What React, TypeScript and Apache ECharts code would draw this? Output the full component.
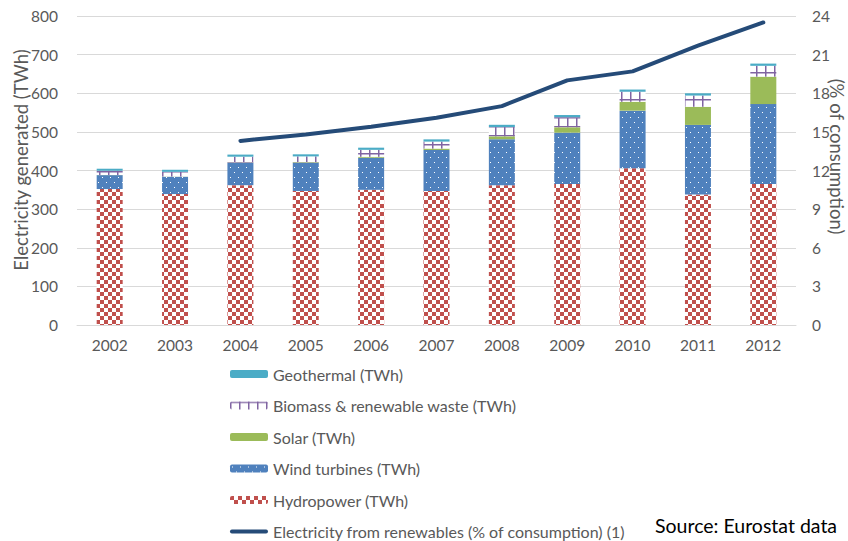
import React, { useEffect, useRef } from "react";
import * as echarts from "echarts";

const years = ["2002", "2003", "2004", "2005", "2006", "2007", "2008", "2009", "2010", "2011", "2012"];
const hydro = [352, 339, 362, 347, 350, 347, 362, 365, 406, 338, 365];
const wind = [36, 45, 58, 73, 83, 106, 119, 133, 149, 180, 207];
const solar = [0.3, 0.5, 0.7, 1.5, 2.5, 3.8, 7.5, 14, 23, 47, 71];
const biomass = [11, 12, 15, 15, 18, 18, 24, 26, 26, 29, 28];
const geothermal = [5.3, 5.4, 5.5, 5.4, 5.6, 5.8, 5.8, 5.6, 5.6, 5.9, 5.8];
const renewableShare: (number | string)[] = ["-", "-", 14.3, 14.8, 15.4, 16.1, 17.0, 19.0, 19.7, 21.7, 23.5];

const FONT = "Lato";
const GREY = "#595959";

function makePattern(w: number, h: number, draw: (ctx: CanvasRenderingContext2D) => void) {
  const c = document.createElement("canvas");
  c.width = w;
  c.height = h;
  const ctx = c.getContext("2d")!;
  draw(ctx);
  return { image: c.toDataURL(), repeat: "repeat", imageWidth: w, imageHeight: h } as any;
}

export default function App() {
  const ref = useRef<HTMLDivElement>(null);
  useEffect(() => {
    if (!ref.current) return;
    const chart = echarts.init(ref.current, undefined, { renderer: "svg" });

    const hydroPat = makePattern(8, 8, (ctx) => {
      ctx.fillStyle = "#ffffff";
      ctx.fillRect(0, 0, 8, 8);
      ctx.fillStyle = "#C0504D";
      ctx.fillRect(0, 0, 4, 4);
      ctx.fillRect(4, 4, 4, 4);
    });
    const windPat = makePattern(8, 10, (ctx) => {
      ctx.fillStyle = "#4F81BD";
      ctx.fillRect(0, 0, 8, 10);
      ctx.fillStyle = "#ffffff";
      ctx.fillRect(2, 2, 1, 1);
      ctx.fillRect(6, 7, 1, 1);
    });
    const bioPat = makePattern(9, 9, (ctx) => {
      ctx.fillStyle = "#ffffff";
      ctx.fillRect(0, 0, 9, 9);
      ctx.fillStyle = "#8064A2";
      ctx.fillRect(0, 0, 9, 1.5);
      ctx.fillRect(0, 0, 1.5, 9);
    });

    const barW = 26;
    chart.setOption({
      animation: false,
      backgroundColor: "#ffffff",
      textStyle: { fontFamily: FONT },
      grid: { left: 77, right: 52, top: 16, bottom: 216, outerBoundsMode: "none", containLabel: false },
      legend: {
        orient: "vertical",
        left: 230,
        top: 366,
        height: 200,
        padding: 0,
        itemWidth: 38,
        itemHeight: 8,
        itemGap: 15.5,
        textStyle: { fontFamily: FONT, fontSize: 16, color: GREY, lineHeight: 15 },
        data: [
          { name: "Geothermal (TWh)" },
          { name: "Biomass & renewable waste (TWh)" },
          { name: "Solar (TWh)" },
          { name: "Wind turbines (TWh)" },
          { name: "Hydropower (TWh)" },
          {
            name: "Electricity from renewables (% of consumption) (1)",
            icon: "path://M2,0 L38,0 A2,2 0 0 1 38,4 L2,4 A2,2 0 0 1 2,0 Z",
          },
        ],
      },
      xAxis: {
        type: "category",
        data: years,
        axisLine: { lineStyle: { color: "#D9D9D9", width: 1 } },
        axisTick: { show: false },
        axisLabel: { color: GREY, fontSize: 15.5, fontFamily: FONT, margin: 12 },
      },
      yAxis: [
        {
          type: "value",
          min: 0,
          max: 800,
          interval: 100,
          name: "Electricity generated (TWh)",
          nameLocation: "middle",
          nameGap: 47,
          nameMoveOverlap: false,
          nameTextStyle: { color: GREY, fontSize: 18.5, fontFamily: FONT, padding: [0, 0, 0, 21] },
          axisLine: { show: false },
          axisTick: { show: false },
          axisLabel: { color: GREY, fontSize: 15.5, fontFamily: FONT, margin: 19 },
          splitLine: { lineStyle: { color: "#D9D9D9", width: 1 } },
        },
        {
          type: "value",
          min: 0,
          max: 24,
          interval: 3,
          position: "right",
          name: "(% of consumption)",
          nameLocation: "middle",
          nameRotate: -90,
          nameGap: 31,
          nameMoveOverlap: false,
          nameTextStyle: { color: GREY, fontSize: 18.5, fontFamily: FONT, padding: [0, 28, 0, 0] },
          axisLine: { show: false },
          axisTick: { show: false },
          axisLabel: { color: GREY, fontSize: 15.5, fontFamily: FONT, margin: 16 },
          splitLine: { show: false },
        },
      ],
      series: [
        { name: "Hydropower (TWh)", type: "bar", stack: "t", barWidth: barW, data: hydro, itemStyle: { color: hydroPat } },
        { name: "Wind turbines (TWh)", type: "bar", stack: "t", barWidth: barW, data: wind, itemStyle: { color: windPat } },
        { name: "Solar (TWh)", type: "bar", stack: "t", barWidth: barW, data: solar, itemStyle: { color: "#9BBB59" } },
        { name: "Biomass & renewable waste (TWh)", type: "bar", stack: "t", barWidth: barW, data: biomass, itemStyle: { color: bioPat } },
        { name: "Geothermal (TWh)", type: "bar", stack: "t", barWidth: barW, data: geothermal, itemStyle: { color: "#4BACC6" } },
        {
          name: "Electricity from renewables (% of consumption) (1)",
          type: "line",
          yAxisIndex: 1,
          data: renewableShare,
          symbol: "none",
          lineStyle: { color: "#254B78", width: 4, cap: "round" },
          itemStyle: { color: "#254B78" },
        },
      ],
      graphic: [
        {
          type: "text",
          left: 655,
          top: 515,
          style: { text: "Source: Eurostat data", fontFamily: FONT, fontSize: 19.5, fill: "#000000" },
        },
      ],
    });
    return () => chart.dispose();
  }, []);
  return <div ref={ref} style={{ position: "absolute", left: 0, top: 0, width: 848, height: 541 }} />;
}
